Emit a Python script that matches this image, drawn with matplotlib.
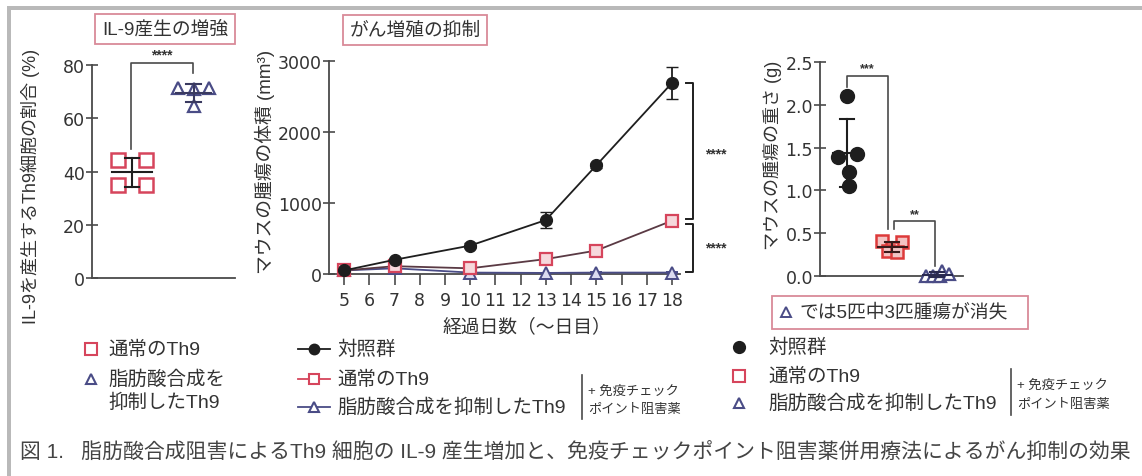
import matplotlib
matplotlib.use('Agg')
import matplotlib.pyplot as plt
import numpy as np
from matplotlib.patches import Rectangle
from matplotlib.lines import Line2D

FONT = ['Liberation Sans', 'Noto Sans CJK JP']
plt.rcParams['font.family'] = FONT

# ---------------- data ----------------
# IL-9 producing Th9 cells (%)
il9_groups = ['通常のTh9', '脂肪酸合成を抑制したTh9']
il9_normal = [44.5, 44.5, 35.0, 35.0]
il9_fasn = [71.5, 71.5, 71.0, 64.5]

# Tumour volume (mm^3) over days
days = [5, 7, 10, 13, 15, 18]
day_ticks = list(range(5, 19))
vol_ctrl = [50, 200, 400, 760, 1530, 2690]
vol_ctrl_err = [10, 25, 35, 110, 40, 220]
vol_th9 = [50, 110, 80, 210, 330, 750]
vol_th9_err = [10, 20, 20, 30, 25, 40]
vol_fasn = [50, 80, 20, 15, 20, 20]
vol_fasn_err = [10, 15, 8, 5, 6, 6]

# Tumour weight (g) at end point
wt_ctrl = [2.10, 1.42, 1.385, 1.22, 1.05]
wt_th9 = [0.41, 0.40, 0.33, 0.30, 0.28]
wt_fasn = [0.0, 0.0, 0.0, 0.065, 0.03]

il9_ticks = [0, 20, 40, 60, 80]
vol_ticks = [0, 1000, 2000, 3000]
wt_ticks = [0.0, 0.5, 1.0, 1.5, 2.0, 2.5]

# ---------------- style ----------------
W, H = 1142, 477
RED = '#d6455c'
NAVY = '#4a4c86'
BLK = '#1e1e1e'
AXC = '#4a4a4a'
TXT = '#333333'
BOXC = '#d98a98'
LEG_FS = 14

fig = plt.figure(figsize=(W / 100, H / 100), dpi=100, facecolor='white')


def fx(px):
    return px / W


def fy(py):
    return 1 - py / H


def rect(x0, y_top, x1, y_bot):
    return [fx(x0), fy(y_bot), (x1 - x0) / W, (y_bot - y_top) / H]


def style(ax):
    for s in ['top', 'right']:
        ax.spines[s].set_visible(False)
    for s in ['left', 'bottom']:
        ax.spines[s].set_color(AXC)
        ax.spines[s].set_linewidth(1.3)
    ax.tick_params(colors=AXC, labelcolor=TXT, labelsize=12.5, width=1.2,
                   labelfontfamily='DejaVu Sans')
    ax.tick_params(axis='y', direction='inout', length=8, pad=1)
    ax.patch.set_alpha(0)


def mean_sd(ax, xc, vals, half_mean, half_cap, color=BLK):
    m = np.mean(vals)
    s = np.std(vals, ddof=1)
    ax.plot([xc - half_mean, xc + half_mean], [m, m], color=color, lw=1.5, zorder=4, clip_on=False)
    ax.plot([xc, xc], [m - s, m + s], color=color, lw=1.5, zorder=4, clip_on=False)
    for v in (m - s, m + s):
        ax.plot([xc - half_cap, xc + half_cap], [v, v], color=color, lw=1.5, zorder=4, clip_on=False)


def bracket(ax, x0, x1, y0, ytop, y1, label, label_y, fs=10):
    ax.plot([x0, x0, x1, x1], [y0, ytop, ytop, y1], color=AXC, lw=1.2, clip_on=False)
    ax.text((x0 + x1) / 2, label_y, label, ha='center', va='center', fontsize=fs,
            color=TXT, fontweight='bold', clip_on=False)


# frame bars of the figure
fig.add_artist(Rectangle((fx(7), fy(11)), 1, 4 / H, transform=fig.transFigure,
                         color='#b9b9b9', lw=0))
fig.add_artist(Rectangle((fx(7), 0), 4 / W, fy(7), transform=fig.transFigure,
                         color='#b9b9b9', lw=0))

# ---------------- panel 1: IL-9 production ----------------
ax1 = fig.add_axes(rect(92, 66, 235, 279))
style(ax1)
ax1.set_xlim(0, 1)
ax1.set_ylim(0, 80)
ax1.set_yticks(il9_ticks)
ax1.set_xticks([])
pos1 = [0.28, 0.71]
jit_normal = [-0.1, 0.1, -0.1, 0.1]
jit_fasn = [-0.11, 0.11, 0.0, 0.0]
ax1.plot(np.array(jit_normal) + pos1[0], il9_normal, 's', ms=10, mfc='white', mec=RED,
         mew=1.8, ls='none', zorder=3, clip_on=False)
ax1.plot(np.array(jit_fasn) + pos1[1], il9_fasn, '^', ms=9, mfc='white', mec=NAVY,
         mew=1.6, ls='none', zorder=3, clip_on=False)
mean_sd(ax1, pos1[0], il9_normal, 0.14, 0.05)
mean_sd(ax1, pos1[1], il9_fasn, 0.12, 0.05, color='#3a3a60')
bracket(ax1, 0.273, 0.706, 48.5, 80.8, 77.0, '****', 84.0)
fig.text(fx(30), fy(186), 'IL-9を産生するTh9細胞の割合 (%)', rotation=90,
         ha='center', va='center', fontsize=13, color=TXT)
fig.text(fx(165), fy(30), 'IL-9産生の増強', ha='center', va='center', fontsize=13.5,
         color=TXT, bbox=dict(boxstyle='square,pad=0.35', fc='white', ec=BOXC, lw=1.3))

# ---------------- panel 2: tumour growth ----------------
ax2 = fig.add_axes(rect(329, 62, 680, 275))
style(ax2)
ax2.set_xlim(4.4, 18.32)
ax2.set_ylim(0, 3000)
ax2.set_yticks(vol_ticks)
ax2.set_xticks(day_ticks)
ax2.tick_params(axis='x', direction='out', length=8, pad=4)
ax2.errorbar(days, vol_fasn, yerr=vol_fasn_err, color=NAVY, lw=1.3, marker='^', ms=8,
             mfc='#dcdcf0', mec=NAVY, mew=1.4, capsize=4, zorder=3, clip_on=False)
ax2.errorbar(days, vol_th9, yerr=vol_th9_err, color='#5a3a44', lw=1.3, marker='s', ms=8,
             mfc='#f6d8dc', mec=RED, mew=1.6, capsize=4, ecolor=RED, zorder=4, clip_on=False)
ax2.errorbar(days, vol_ctrl, yerr=vol_ctrl_err, color=BLK, lw=1.3, marker='o', ms=8.5,
             mfc=BLK, mec=BLK, capsize=4, zorder=5, clip_on=False)
# significance brackets at the last time point
bx, stub = 18.85, 0.28
ax2.plot([bx - stub, bx, bx, bx - stub], [vol_ctrl[-1], vol_ctrl[-1], vol_th9[-1] + 25, vol_th9[-1] + 25],
         color=BLK, lw=1.4, clip_on=False)
ax2.plot([bx - stub, bx, bx, bx - stub], [vol_th9[-1] - 45, vol_th9[-1] - 45, 30, 30],
         color=BLK, lw=1.4, clip_on=False)
ax2.text(19.75, 1700, '****', ha='center', va='center', fontsize=10, fontweight='bold',
         color=TXT, clip_on=False)
ax2.text(19.75, 380, '****', ha='center', va='center', fontsize=10, fontweight='bold',
         color=TXT, clip_on=False)
fig.text(fx(265), fy(162), 'マウスの腫瘍の体積 (mm³)', rotation=90, ha='center',
         va='center', fontsize=13.5, color=TXT)
fig.text(fx(527), fy(327), '経過日数（〜日目）', ha='center', va='center',
         fontsize=13.5, color=TXT)
fig.text(fx(415), fy(31), 'がん増殖の抑制', ha='center', va='center', fontsize=13.5,
         color=TXT, bbox=dict(boxstyle='square,pad=0.35', fc='white', ec=BOXC, lw=1.3))

# ---------------- panel 3: tumour weight ----------------
ax3 = fig.add_axes(rect(820, 62.7, 963, 277.3))
style(ax3)
ax3.set_xlim(0, 1)
ax3.set_ylim(0, 2.5)
ax3.set_yticks(wt_ticks)
ax3.set_yticklabels([f'{t:.1f}' for t in wt_ticks])
ax3.set_xticks([])
pos3 = [0.19, 0.505, 0.82]
jit_ctrl = [0.0, 0.07, -0.063, 0.014, 0.014]
jit_th9 = [-0.07, 0.07, 0.0, -0.03, 0.03]
jit_fasn = [-0.08, -0.03, 0.02, 0.035, 0.08]
ax3.plot(np.array(jit_ctrl) + pos3[0], wt_ctrl, 'o', ms=10, color=BLK, ls='none',
         zorder=3, clip_on=False)
ax3.plot(np.array(jit_th9) + pos3[1], wt_th9, 's', ms=8, mfc='#f3c4c4', mec='#dd3a3a',
         mew=1.8, ls='none', zorder=3, clip_on=False)
ax3.plot(np.array(jit_fasn) + pos3[2], wt_fasn, '^', ms=8, mfc='white', mec=NAVY,
         mew=1.6, ls='none', zorder=3, clip_on=False)
mean_sd(ax3, pos3[0], wt_ctrl, 0.1, 0.05)
mean_sd(ax3, pos3[1], wt_th9, 0.1, 0.05, color='#3a1a1a')
mean_sd(ax3, pos3[2], wt_fasn, 0.1, 0.05, color='#2a2a50')
bracket(ax3, 0.189, 0.476, 2.2, 2.33, 0.55, '***', 2.42, fs=9)
bracket(ax3, 0.517, 0.804, 0.55, 0.64, 0.12, '**', 0.72, fs=9)
fig.text(fx(773), fy(155), 'マウスの腫瘍の重さ (g)', rotation=90, ha='center',
         va='center', fontsize=13, color=TXT)
fig.add_artist(Rectangle((fx(772), fy(330)), 256 / W, 33 / H, transform=fig.transFigure,
                         fc='white', ec=BOXC, lw=1.3))
fig.add_artist(Line2D([fx(786)], [fy(313)], transform=fig.transFigure, marker='^', ms=7,
                      mfc='white', mec=NAVY, mew=1.4, ls='none'))
fig.text(fx(799), fy(313), 'では5匹中3匹腫瘍が消失', ha='left', va='center',
         fontsize=13.5, color=TXT)

# ---------------- legends ----------------
def key(x, y, marker, mfc, mec, ms=8, line=None, lw=1.3):
    if line is not None:
        fig.add_artist(Line2D([fx(x - 16), fx(x + 16)], [fy(y), fy(y)],
                              transform=fig.transFigure, color=line, lw=lw))
    fig.add_artist(Line2D([fx(x)], [fy(y)], transform=fig.transFigure, marker=marker,
                          ms=ms, mfc=mfc, mec=mec, mew=1.5, ls='none'))


def label(x, y, s, fs=LEG_FS):
    fig.text(fx(x), fy(y), s, ha='left', va='center', fontsize=fs, color=TXT)


# left legend (IL-9 panel)
key(91, 350, 's', 'white', RED, ms=8)
label(108, 350, il9_groups[0])
key(91, 380, '^', 'white', NAVY, ms=7)
label(108, 380, '脂肪酸合成を')
label(108, 403, '抑制したTh9')

# middle legend (growth curve)
key(314, 350, 'o', BLK, BLK, ms=7, line=BLK)
label(337, 350, '対照群')
key(314, 380, 's', 'white', RED, ms=7, line=RED)
label(337, 380, '通常のTh9')
key(314, 408, '^', 'white', NAVY, ms=7, line=NAVY)
label(337, 408, il9_groups[1])
fig.add_artist(Line2D([fx(582), fx(582)], [fy(376), fy(420)], transform=fig.transFigure,
                      color=AXC, lw=1.2))
label(588, 392, '+ 免疫チェック', fs=9.5)
label(588, 410, 'ポイント阻害薬', fs=9.5)

# right legend (tumour weight)
key(739, 348, 'o', BLK, BLK, ms=8)
label(768, 348, '対照群')
key(739, 377, 's', 'white', RED, ms=8)
label(768, 377, '通常のTh9')
key(739, 404, '^', 'white', NAVY, ms=7)
label(768, 404, il9_groups[1])
fig.add_artist(Line2D([fx(1011), fx(1011)], [fy(370), fy(416)], transform=fig.transFigure,
                      color=AXC, lw=1.2))
label(1017, 386, '+ 免疫チェック', fs=9.5)
label(1017, 405, 'ポイント阻害薬', fs=9.5)

# caption
fig.text(fx(20), fy(453),
         '図 1.   脂肪酸合成阻害によるTh9 細胞の IL-9 産生増加と、免疫チェックポイント阻害薬併用療法によるがん抑制の効果',
         ha='left', va='center', fontsize=15, color='#444444')

fig.savefig('out.png', dpi=100, facecolor='white')
